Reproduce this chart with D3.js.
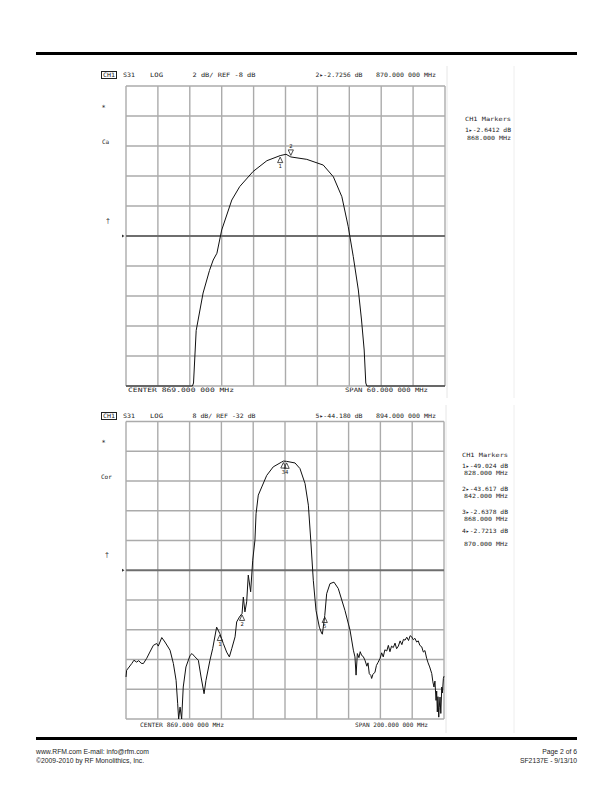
<!DOCTYPE html>
<html><head><meta charset="utf-8">
<script src="https://cdn.jsdelivr.net/npm/d3@7"></script>
<style>body{margin:0;background:#fff}svg{display:block}text{opacity:0.99}</style>
</head><body><svg id="c" width="612" height="792"></svg>
<script>
// ---------- DATA ----------
// Top panel: S31 LOG, 2 dB/div, REF -8 dB, center 869 MHz, span 60 MHz
const topFreqMHz = [839, 845, 851.5, 851.7, 852.2, 853.5, 854.7, 855.4, 856.1, 857.0, 858.9, 860.4, 862.9, 865.5, 868.0, 869.1, 870.0, 873.0, 876.1, 878.0, 879.6, 880.8, 881.75, 882.7, 883.3, 883.8, 884.1, 884.3, 899];
const topLogMagDb = [-18.6, -18.6, -18.6, -17.8, -14.3, -11.8, -10.3, -9.6, -9.15, -7.6, -5.6, -4.7, -3.7, -2.98, -2.64, -2.55, -2.73, -2.89, -3.27, -4.05, -5.38, -7.38, -9.38, -11.6, -13.6, -15.6, -17.8, -18.6, -18.6];
const topMarkerIds = ["1", "2"];
const topMarkerFreq = [868, 870];
const topMarkerDb = [-2.6412, -2.7256];
const topHeader = ["S31", "LOG", "2 dB/ REF -8 dB", "2\u25B8-2.7256 dB", "870.000 000 MHz"];
const topFooter = ["CENTER 869.000 000 MHz", "SPAN 60.000 000 MHz"];
const topMarkerList = ["CH1 Markers", "1\u25B8-2.6412 dB", "868.000 MHz"];

// Bottom panel: S31 LOG, 8 dB/div, REF -32 dB, center 869 MHz, span 200 MHz
const botFreqMHz = [769, 769.4, 772.6, 774, 775.7, 777, 778.5, 779.9, 782.0, 784, 786.2, 788.3, 789.3, 791.5, 793.5, 796.7, 798.8, 800.5, 801.5, 802.1, 803.0, 804.0, 805.0, 806.7, 809.3, 810.5, 812.4, 814.5, 816.2, 818.1, 819.3, 821.8, 823.5, 826.0, 828.0, 830.2, 832.3, 834.0, 835.5, 837.6, 838.6, 840.3, 842.0, 842.8, 843.8, 844.9, 845.9, 847.4, 848.7, 850.1, 850.8, 852.2, 854.4, 857.5, 861.6, 866.9, 868.0, 870.0, 875.3, 878.4, 881.6, 883.7, 885.2, 886.8, 888.5, 890.6, 892.1, 892.5, 894.0, 895.2, 897.3, 899.8, 902.5, 906.7, 909.9, 912.0, 913.0, 913.7, 914.5, 915.5, 916.3, 917.2, 918.2, 919.3, 920.5, 921.2, 922.0, 923.0, 923.5, 924.3, 925.6, 926.5, 927.5, 928.8, 929.8, 930.8, 931.8, 933.0, 934.0, 935.0, 936.0, 937.1, 938.2, 939.2, 940.3, 941.4, 942.5, 943.5, 944.5, 945.6, 946.7, 947.7, 948.7, 949.7, 950.7, 951.8, 952.8, 953.8, 955.0, 956.0, 957.0, 958.1, 959.0, 960.0, 961.3, 962.0, 962.7, 963.3, 964.0, 964.4, 964.8, 965.2, 965.7, 966.0, 966.5, 967.0, 967.6, 968.0, 968.6, 969];
const botLogMagDb = [-60.7, -58.9, -57.1, -56.2, -56.7, -56.3, -57.0, -57.1, -55.7, -54.0, -52.2, -51.7, -52.4, -50.1, -51.3, -53.5, -57.1, -61.6, -67.9, -73, -68.8, -73, -63.4, -58.0, -54.9, -54.4, -55.3, -56.2, -60.7, -65.2, -61.6, -56.2, -53.1, -47.3, -49.02, -51.7, -54.0, -55.3, -53.1, -49.9, -45.9, -44.6, -43.62, -39.2, -43.2, -40.5, -33.3, -37.8, -29.3, -23.9, -16.8, -11.8, -9.6, -6.5, -4.2, -2.9, -2.64, -2.72, -3.15, -4.65, -8.7, -14.5, -23.9, -34.7, -42.8, -47.3, -49.0, -49.2, -44.18, -38.3, -35.6, -35.2, -36.9, -42.8, -48.1, -53.5, -55.3, -60.2, -54.4, -55.5, -53.9, -54.9, -55.2, -56.2, -57.8, -56.9, -59.8, -60.3, -61.1, -60.0, -59.4, -57.6, -56.8, -55.7, -54.2, -55.3, -53.4, -53.7, -52.2, -53.9, -52.4, -52.8, -51.6, -53.1, -52.4, -51.0, -52.0, -50.6, -50.8, -50.0, -50.9, -49.6, -49.9, -50.7, -50.3, -51.3, -51.0, -52.2, -52.6, -54.0, -53.6, -55.7, -56.9, -58.0, -59.8, -62.0, -63.4, -61.8, -67.0, -64.5, -70.1, -66.0, -71.5, -69.0, -66.1, -70.5, -63.4, -65.0, -61.1, -60.5];
const botMarkerIds = ["1", "2", "3", "4", "5"];
const botMarkerFreq = [828, 842, 868, 870, 894];
const botMarkerDb = [-49.024, -43.617, -2.6378, -2.7213, -44.18];
const botHeader = ["S31", "LOG", "8 dB/ REF -32 dB", "5\u25B8-44.180 dB", "894.000 000 MHz"];
const botFooter = ["CENTER 869.000 000 MHz", "SPAN 200.000 000 MHz"];
const botMarkerList = ["CH1 Markers", "1\u25B8-49.024 dB", "828.000 MHz", "2\u25B8-43.617 dB", "842.000 MHz", "3\u25B8-2.6378 dB", "868.000 MHz", "4\u25B8-2.7213 dB", "870.000 MHz"];

const footerLeft = ["www.RFM.com  E-mail: info@rfm.com", "\u00A92009-2010 by RF Monolithics, Inc."];
const footerRight = ["Page 2 of 6", "SF2137E - 9/13/10"];

// ---------- DRAW ----------
const svg = d3.select("#c");
const MONO = "'DejaVu Sans Mono', 'Liberation Mono', monospace";
const GRID = "#ababab";

svg.append("rect").attr("x", 36).attr("y", 52).attr("width", 541).attr("height", 3).attr("fill", "#000");
svg.append("rect").attr("x", 36).attr("y", 737).attr("width", 541).attr("height", 3).attr("fill", "#000");

function monoText(g, str, x, y, w, size) {
  const t = g.append("text").attr("x", x).attr("y", y).text(str)
    .attr("font-family", MONO).attr("font-size", size || 6).attr("fill", "#222");
  if (w) t.attr("textLength", w).attr("lengthAdjust", "spacingAndGlyphs");
  return t;
}

function panel(c) {
  const g = svg.append("g");
  const x = d3.scaleLinear().domain(c.xDom).range([c.x0, c.x1]);
  const y = d3.scaleLinear().domain(c.yDom).range([c.y1, c.y0]).clamp(true);

  // faint image frame
  g.append("line").attr("x1", c.x1 + 2).attr("x2", c.x1 + 2).attr("y1", c.fy0).attr("y2", c.fy1).attr("stroke", "#e6e6e6");
  g.append("line").attr("x1", 514).attr("x2", 514).attr("y1", c.fy0).attr("y2", c.fy1).attr("stroke", "#eeeeee");

  // grid
  const xt = d3.range(c.xDom[0], c.xDom[1] + 0.001, c.xStep);
  const yt = d3.range(c.yDom[0], c.yDom[1] + 0.001, c.yStep);
  g.selectAll(".vx").data(xt).join("line").attr("x1", d => x(d)).attr("x2", d => x(d))
    .attr("y1", c.y0).attr("y2", c.y1).attr("stroke", GRID).attr("stroke-width", 1.4);
  g.selectAll(".hy").data(yt).join("line").attr("y1", d => y(d)).attr("y2", d => y(d))
    .attr("x1", c.x0).attr("x2", c.x1).attr("stroke", d => d === c.ref ? "#6e6e6e" : GRID)
    .attr("stroke-width", d => d === c.ref ? 1.8 : 1.4);

  // trace
  const line = d3.line().x(d => x(d[0])).y(d => y(d[1]));
  g.append("path").datum(c.freq.map((f, i) => [f, c.db[i]])).attr("d", line)
    .attr("fill", "none").attr("stroke", "#111").attr("stroke-width", 1).attr("stroke-linejoin", "round");

  // markers
  c.mIds.forEach((id, i) => {
    const px = x(c.mF[i]), py = y(c.mDb[i]);
    if (id === c.active) {
      g.append("path").attr("d", `M${px - 2.6},${py - 7} L${px + 2.6},${py - 7} L${px},${py - 1.5} Z`)
        .attr("fill", "none").attr("stroke", "#222").attr("stroke-width", 0.8);
      g.append("text").attr("x", px).attr("y", py - 8.5).attr("text-anchor", "middle").text(id)
        .attr("font-family", MONO).attr("font-size", 5.5).attr("fill", "#222");
    } else {
      g.append("path").attr("d", `M${px},${py + 1.5} L${px - 2.6},${py + 7} L${px + 2.6},${py + 7} Z`)
        .attr("fill", "none").attr("stroke", "#222").attr("stroke-width", 0.8);
      g.append("text").attr("x", px).attr("y", py + 12.5).attr("text-anchor", "middle").text(id)
        .attr("font-family", MONO).attr("font-size", 5.5).attr("fill", "#222");
    }
  });

  // header
  g.append("rect").attr("x", 101.5).attr("y", c.hy - 5.5).attr("width", 15).attr("height", 7)
    .attr("fill", "none").attr("stroke", "#222").attr("stroke-width", 1);
  monoText(g, "CH1", 103, c.hy, 12);
  const hx = [123, 150, 192.5, 315.5, 376];
  const hw = [12, 13, c.hw2, 47, 60];
  c.header.forEach((s, i) => monoText(g, s, hx[i], c.hy, hw[i]));

  // footer labels
  monoText(g, c.footer[0], c.fx0, c.fy, c.fw0);
  monoText(g, c.footer[1], c.fx1, c.fy, c.fw1);

  // left annotations
  c.left.forEach(a => {
    g.append("text").attr("x", a[1]).attr("y", a[2]).text(a[0])
      .attr("font-family", a[3] ? "'Liberation Sans', sans-serif" : MONO).attr("font-size", a[4] || 6).attr("fill", "#222");
  });
  g.append("path").attr("d", `M${c.x0 - 4},${y(c.ref) - 1.5} L${c.x0 - 1.5},${y(c.ref)} L${c.x0 - 4},${y(c.ref) + 1.5} Z`).attr("fill", "#333");

  // marker list
  c.mlist.forEach((s, i) => {
    monoText(g, s, c.mlx[i], c.mly[i], c.mlw[i], 5.8);
  });
}

panel({
  x0: 126, x1: 445, y0: 86, y1: 386, xDom: [839, 899], yDom: [-18, 2], xStep: 6, yStep: 2, ref: -8,
  freq: topFreqMHz, db: topLogMagDb, mIds: topMarkerIds, mF: topMarkerFreq, mDb: topMarkerDb, active: "2",
  header: topHeader, hy: 77, hw2: 63, footer: topFooter, fy: 392, fx0: 128, fw0: 106, fx1: 345, fw1: 83,
  fy0: 66, fy1: 398,
  left: [["*", 101.5, 110, false, 7], ["Ca", 102, 143.5, false, 6], ["\u2020", 106, 223, true, 7]],
  mlist: topMarkerList, mlx: [465, 465, 467], mly: [121, 132, 139.5], mlw: [46, 46, 44]
});

panel({
  x0: 126, x1: 444, y0: 421.5, y1: 719, xDom: [769, 969], yDom: [-72, 8], xStep: 20, yStep: 8, ref: -32,
  freq: botFreqMHz, db: botLogMagDb, mIds: botMarkerIds, mF: botMarkerFreq, mDb: botMarkerDb, active: null,
  header: botHeader, hy: 418, hw2: 63, footer: botFooter, fy: 727, fx0: 140, fw0: 84, fx1: 355, fw1: 73,
  fy0: 405, fy1: 733,
  left: [["*", 101.5, 445, false, 7], ["Cor", 101, 478.5, false, 6], ["\u2020", 105, 557, true, 7]],
  mlist: botMarkerList, mlx: [462, 462, 464, 462, 464, 462, 464, 462, 464],
  mly: [457, 467.5, 474.5, 491, 497.5, 514, 520.5, 533, 546], mlw: [46, 46, 44, 46, 44, 46, 44, 46, 44]
});

const ft = svg.append("g").attr("font-family", "'Liberation Sans', Arial, sans-serif").attr("font-size", 6.8).attr("fill", "#222");
footerLeft.forEach((s, i) => ft.append("text").attr("x", 36).attr("y", 754 + i * 8.5).text(s));
footerRight.forEach((s, i) => ft.append("text").attr("x", 577).attr("y", 754 + i * 8.5).attr("text-anchor", "end").text(s));
</script>
</body></html>
